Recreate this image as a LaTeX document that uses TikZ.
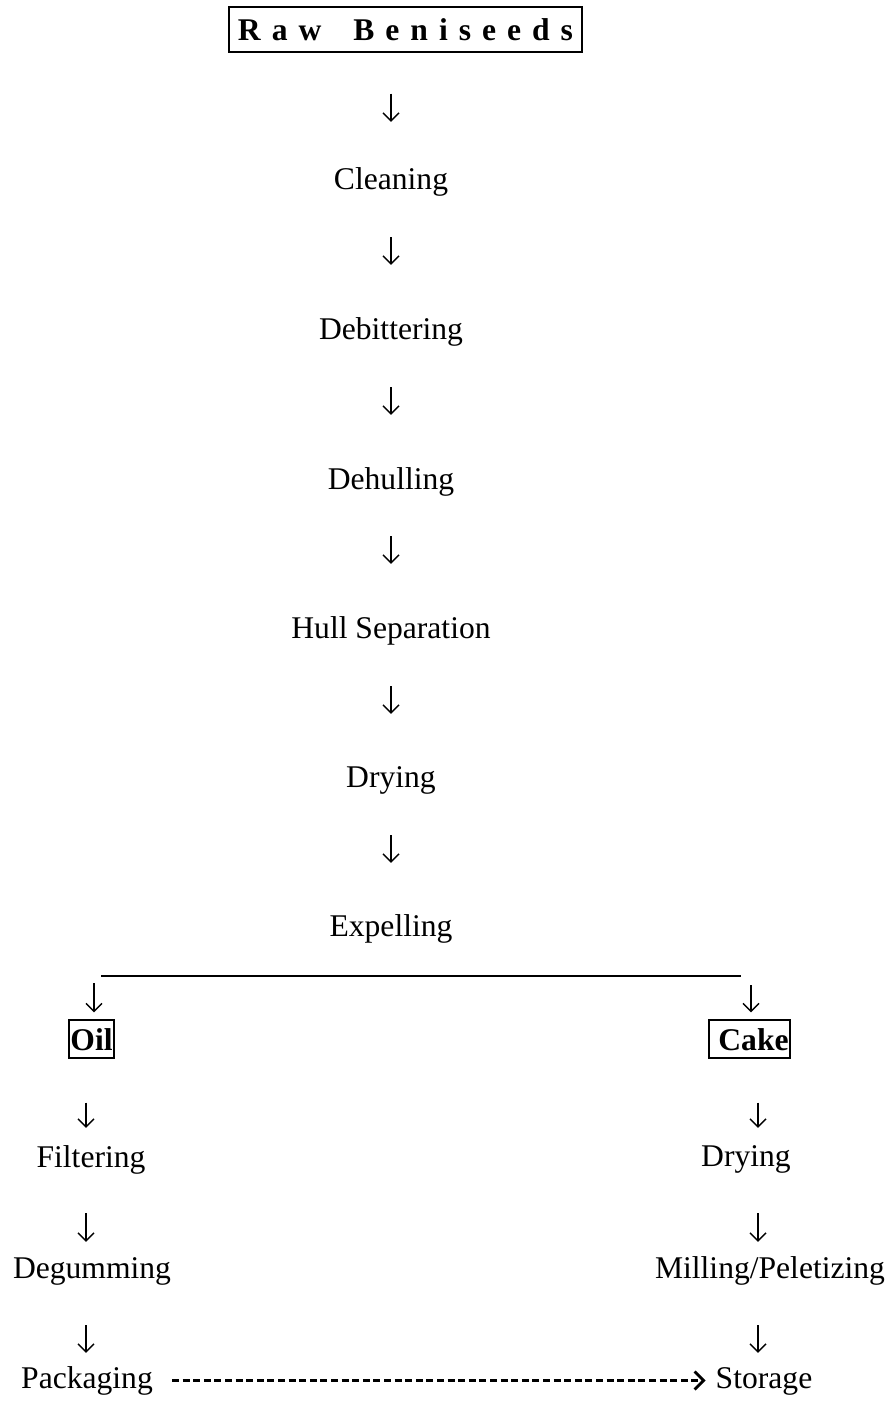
\documentclass[tikz,border=0pt]{standalone}
\usepackage{fontspec}
\setmainfont{Liberation Serif}
\usetikzlibrary{arrows.meta}
\begin{document}
\begin{tikzpicture}[x=1pt,y=-1pt,
  lbl/.style={inner sep=0pt, anchor=base, text height=22pt, text depth=7pt, font=\fontsize{31.6}{38}\selectfont},
  boxed/.style={draw, line width=1.4pt, inner sep=0pt, text height=23pt, text depth=0pt, font=\fontsize{31.6}{38}\selectfont\bfseries},
  flow/.style={line width=1.4pt, -{Straight Barb[length=8pt,width=16pt]}},
  rule/.style={line width=1.5pt},
  dashflow/.style={line width=2.2pt, dash pattern=on 7pt off 3.6pt, -{Straight Barb[length=9pt,width=18pt,line width=2.8pt]}},
]
\useasboundingbox (0,0) rectangle (891,1402);

% main column
\node[boxed, minimum width=353pt, minimum height=45pt] (raw) at (405.5,29.5)
  {R\kern11pt a\kern11pt w\kern32pt B\kern11pt e\kern11pt n\kern11pt i\kern11pt s\kern11pt e\kern11pt e\kern11pt d\kern11pt s};
\node[lbl] (clean) at (391,189) {Cleaning};
\node[lbl] (debit) at (391,339) {Debittering};
\node[lbl] (dehull) at (391,489) {Dehulling};
\node[lbl] (hull) at (391,638) {Hull Separation};
\node[lbl] (dry) at (391,787) {Drying};
\node[lbl] (expel) at (391,936) {Expelling};

\draw[flow, shorten <=41pt, shorten >=45pt] (clean |- raw.south) -- (clean.north);
\draw[flow, shorten <=41pt, shorten >=52pt] (clean.south) -- (debit.north);
\draw[flow, shorten <=41pt, shorten >=52pt] (debit.south) -- (dehull.north);
\draw[flow, shorten <=40pt, shorten >=52pt] (dehull.south) -- (hull.north);
\draw[flow, shorten <=41pt, shorten >=51pt] (hull.south) -- (dry.north);
\draw[flow, shorten <=41pt, shorten >=51pt] (dry.south) -- (expel.north);

% split
\coordinate (hl) at (101,976);
\coordinate (hr) at (741,976);
\coordinate (sl) at (94,976);
\coordinate (sr) at (751,976);
\draw[rule] (hl) -- (hr);

\node[boxed, minimum width=45pt, minimum height=38pt] (oil) at (91.5,1039) {Oil};
\node[boxed, minimum width=81pt, minimum height=38pt] (cake) at (749.5,1039) {\hspace*{8pt}Cake};

\draw[flow, shorten <=7pt, shorten >=7pt] (sl) -- (sl |- oil.north);
\draw[flow, shorten <=9pt, shorten >=7pt] (sr) -- (sr |- cake.north);

% left branch
\coordinate (lc) at (86,0);
\node[lbl] (filt) at (91,1167) {Filtering};
\node[lbl] (degum) at (92,1278) {Degumming};
\node[lbl] (pack) at (87,1388) {Packaging};
\draw[flow, shorten <=44pt, shorten >=17pt] (lc |- oil.south) -- (lc |- filt.north);
\draw[flow, shorten <=39pt, shorten >=14pt] (lc |- filt.south) -- (lc |- degum.north);
\draw[flow, shorten <=40pt, shorten >=13pt] (lc |- degum.south) -- (lc |- pack.north);

% right branch
\coordinate (rc) at (758,0);
\node[lbl] (dry2) at (746,1166) {Drying};
\node[lbl] (mill) at (770,1278) {Milling/Peletizing};
\node[lbl] (stor) at (764,1388) {Storage};
\draw[flow, shorten <=44pt, shorten >=16pt] (rc |- cake.south) -- (rc |- dry2.north);
\draw[flow, shorten <=40pt, shorten >=14pt] (rc |- dry2.south) -- (rc |- mill.north);
\draw[flow, shorten <=40pt, shorten >=13pt] (rc |- mill.south) -- (rc |- stor.north);

% packaging to storage
\draw[dashflow, shorten <=19pt, shorten >=10pt] (pack) -- (stor);
\end{tikzpicture}
\end{document}
